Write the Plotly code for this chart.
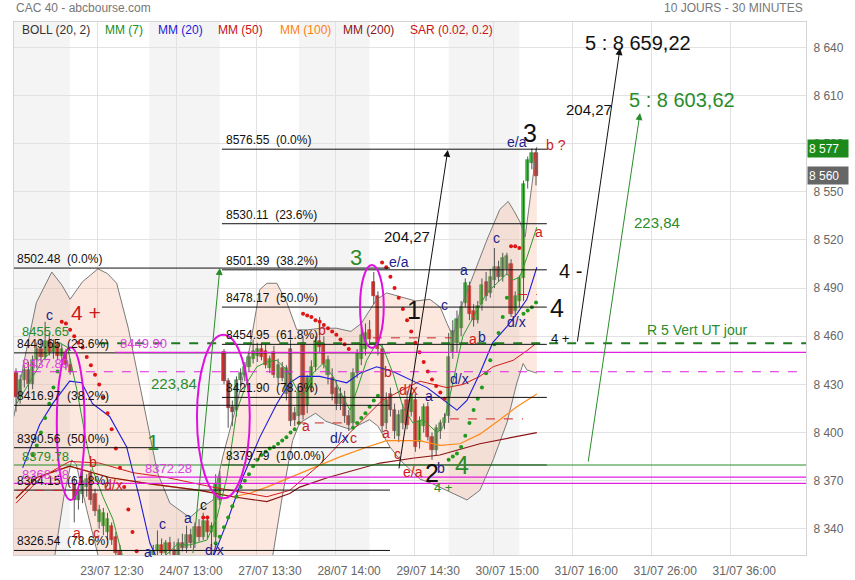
import plotly.graph_objects as go

# ---------------- data ----------------
day_labels = ["22/07", "23/07", "24/07", "27/07", "28/07", "29/07", "30/07", "31/07"]
day_first = [0, 14, 32, 50, 68, 86, 104, 122]
day_last = [13, 31, 49, 67, 85, 103, 121, 125]

opens = [8437, 8422, 8433, 8439, 8430, 8445, 8452, 8447, 8457, 8450, 8455, 8448, 8450, 8442,
         8368, 8358, 8362, 8366, 8375, 8362, 8344, 8342, 8338, 8342, 8335, 8326, 8318, 8308, 8314, 8306, 8312, 8318,
         8315, 8322, 8326, 8330, 8325, 8331, 8327, 8323, 8331, 8328, 8336, 8331, 8341, 8335, 8345, 8338, 8335, 8358,
         8450, 8432, 8416, 8414, 8433, 8436, 8441, 8446, 8448, 8452, 8451, 8440, 8450, 8434, 8440, 8424, 8452, 8412,
         8410, 8456, 8417, 8428, 8441, 8457, 8455, 8436, 8434, 8428, 8418, 8422, 8410, 8406, 8437, 8446, 8452, 8464,
         8494, 8485, 8452, 8406, 8424, 8414, 8398, 8406, 8420, 8413, 8420, 8394, 8404, 8416, 8397, 8389, 8401, 8406,
         8410, 8450, 8456, 8465, 8481, 8491, 8476, 8470, 8480, 8494, 8487, 8495, 8503, 8497, 8502, 8505, 8476, 8482,
         8496, 8557, 8568, 8574]
highs = [8440, 8436, 8442, 8444, 8448, 8456, 8458, 8469, 8462, 8458, 8457, 8455, 8452, 8446,
         8372, 8366, 8377, 8374, 8377, 8365, 8355, 8353, 8350, 8344, 8338, 8330, 8322, 8318, 8318, 8316, 8322, 8322,
         8326, 8330, 8339, 8334, 8333, 8335, 8332, 8334, 8337, 8342, 8340, 8344, 8346, 8350, 8348, 8344, 8374, 8376,
         8452, 8434, 8420, 8435, 8440, 8444, 8450, 8458, 8456, 8456, 8455, 8448, 8454, 8446, 8444, 8442, 8458, 8416,
         8428, 8460, 8436, 8445, 8460, 8472, 8460, 8448, 8440, 8432, 8428, 8426, 8414, 8440, 8452, 8466, 8468, 8470,
         8500, 8488, 8455, 8425, 8428, 8418, 8414, 8418, 8426, 8428, 8424, 8410, 8418, 8419, 8400, 8405, 8408, 8412,
         8462, 8470, 8476, 8482, 8496, 8494, 8480, 8482, 8496, 8500, 8502, 8515, 8507, 8512, 8512, 8508, 8488, 8498,
         8557, 8572, 8577, 8577]
lows = [8413, 8418, 8428, 8426, 8427, 8440, 8444, 8445, 8448, 8446, 8445, 8444, 8439, 8436,
        8344, 8352, 8356, 8360, 8355, 8348, 8340, 8336, 8333, 8330, 8320, 8314, 8306, 8303, 8302, 8302, 8308, 8312,
        8308, 8316, 8320, 8322, 8321, 8324, 8320, 8320, 8326, 8325, 8328, 8328, 8332, 8333, 8334, 8330, 8330, 8355,
        8430, 8403, 8404, 8410, 8428, 8432, 8438, 8443, 8444, 8445, 8440, 8437, 8434, 8430, 8432, 8420, 8404, 8404,
        8406, 8408, 8412, 8425, 8438, 8450, 8440, 8430, 8420, 8414, 8414, 8406, 8401, 8403, 8434, 8442, 8448, 8455,
        8480, 8448, 8400, 8402, 8410, 8396, 8394, 8402, 8402, 8410, 8388, 8390, 8400, 8395, 8383, 8386, 8396, 8402,
        8406, 8446, 8450, 8460, 8478, 8470, 8466, 8468, 8476, 8482, 8484, 8490, 8494, 8494, 8498, 8472, 8472, 8478,
        8482, 8552, 8564, 8554]
closes = [8422, 8433, 8439, 8430, 8445, 8452, 8447, 8457, 8450, 8455, 8448, 8452, 8442, 8438,
          8358, 8364, 8370, 8371, 8358, 8351, 8352, 8350, 8346, 8333, 8325, 8318, 8310, 8315, 8306, 8313, 8318, 8315,
          8322, 8326, 8330, 8325, 8331, 8327, 8323, 8331, 8328, 8336, 8331, 8341, 8335, 8345, 8338, 8342, 8368, 8372,
          8432, 8415, 8413, 8433, 8437, 8441, 8447, 8451, 8452, 8447, 8442, 8446, 8436, 8442, 8434, 8440, 8407, 8408,
          8425, 8411, 8434, 8441, 8457, 8453, 8443, 8445, 8424, 8418, 8424, 8410, 8405, 8437, 8449, 8461, 8462, 8458,
          8485, 8452, 8404, 8420, 8414, 8401, 8411, 8414, 8405, 8424, 8391, 8407, 8416, 8397, 8389, 8403, 8406, 8409,
          8447, 8463, 8471, 8478, 8493, 8474, 8470, 8479, 8492, 8485, 8497, 8503, 8497, 8509, 8510, 8474, 8485, 8496,
          8555, 8570, 8574, 8560]

# Bollinger (20, 2) band outlines, read at their turning points
bb_up_x = [-0.5, 2, 4.9, 8.6, 11, 13, 16, 19.7, 22, 24.2, 27, 31.4, 34, 37, 41.8, 44, 47.4, 49.7, 53.1, 56.2,
           58.6, 60.3, 62.7, 65.1, 67.5, 70, 73.5, 77, 80.5, 83, 86.7, 89.1, 92, 96, 99.5, 102, 103.6, 105, 107.4,
           113.2, 116.3, 118.3, 119.5, 121.2, 122.4, 123.5, 124.5, 125.2]
bb_up_y = [8410, 8445, 8481, 8500, 8492, 8483, 8494, 8502, 8499, 8493, 8465, 8408, 8375, 8356, 8347, 8352, 8358,
           8385, 8418, 8453, 8489, 8493, 8493, 8481, 8464, 8464, 8465, 8465, 8463, 8468, 8483, 8487, 8485, 8482,
           8483, 8478, 8468, 8460, 8481, 8520, 8539, 8544, 8539, 8531, 8522, 8545, 8566, 8578]
bb_lo_x = [-0.5, 8.5, 9.3, 11.5, 13.4, 14.5, 17, 19.7, 21, 40, 58, 61.7, 64, 66.5, 68.2, 72, 74.5, 80.3, 85, 87,
           89.9, 92.3, 94.7, 97.1, 100.2, 103.6, 106.7, 108.4, 111.5, 114.7, 118, 120.4, 121.9, 122.8, 125.2]
bb_lo_y = [8290, 8305, 8323, 8360, 8383, 8380, 8352, 8323, 8310, 8290, 8295, 8323, 8360, 8395, 8406, 8412, 8407,
           8402, 8408, 8404, 8391, 8383, 8377, 8371, 8368, 8364, 8360, 8358, 8364, 8383, 8406, 8431, 8443, 8439, 8437]

# moving averages, read at their turning points
mm7_x = [0.2, 6.4, 10.5, 12.4, 14.6, 17, 18.4, 20.9, 23.3, 25.7, 29, 33, 38.6, 41.8, 45.9, 48.3, 50.7, 53.1,
         55.5, 57.9, 60.3, 62.7, 65.1, 67.5, 68.9, 71.4, 73.8, 76.2, 78.6, 80.3, 81.9, 84.3, 86.7, 88.2, 90.6, 93,
         95.4, 97.8, 101.2, 102.6, 105, 107.4, 110.8, 113.2, 115.6, 118, 119.5, 121.1, 122.8, 125.2]
mm7_y = [8418, 8445, 8456, 8453, 8427, 8393, 8377, 8360, 8346, 8322, 8312, 8316, 8330, 8330, 8333, 8347, 8372,
         8414, 8431, 8441, 8444, 8445, 8439, 8427, 8422, 8437, 8443, 8435, 8422, 8414, 8426, 8445, 8456, 8453, 8437,
         8416, 8406, 8408, 8400, 8403, 8431, 8460, 8476, 8487, 8493, 8499, 8495, 8497, 8509, 8528]
mm20_x = [1.6, 5.7, 8.8, 12.9, 15.8, 18.4, 22.5, 26.6, 29.8, 32.2, 33.8, 38, 44, 47.3, 50.7, 54.5, 58.6, 62.7,
          65.8, 68.2, 73, 76.2, 79.5, 82.7, 86.7, 90.6, 94.7, 98.8, 101.9, 104, 106, 108.4, 111.5, 114.6, 118,
          120.4, 122.8, 125.2]
mm20_y = [8378, 8405, 8418, 8432, 8431, 8418, 8410, 8391, 8358, 8331, 8322, 8300, 8300, 8322, 8344, 8372, 8397,
          8418, 8431, 8435, 8435, 8433, 8431, 8437, 8441, 8438, 8433, 8428, 8422, 8418, 8414, 8420, 8437, 8456,
          8466, 8474, 8483, 8503]
mm50_x = [0, 6, 12.9, 20, 28.1, 36.2, 47.3, 60.3, 65.8, 73, 80.3, 88, 94, 97.1, 103.6, 107.5, 111.5, 114.7,
          119.5, 122.8, 125.2]
mm50_y = [8356, 8372, 8382, 8381, 8375, 8372, 8366, 8360, 8364, 8380, 8400, 8420, 8428, 8432, 8428, 8430, 8435,
          8441, 8445, 8451, 8456]
mm100_x = [0, 5, 12.9, 22.5, 32.2, 44.2, 52.1, 56, 60.3, 65.8, 72.5, 78, 84.4, 89.1, 97, 101.9, 106.7, 111.5,
           116.3, 120.4, 125.2]
mm100_y = [8359, 8372, 8379, 8372, 8368, 8364, 8360, 8362, 8366, 8372, 8379, 8385, 8391, 8395, 8395, 8392, 8393,
           8399, 8408, 8416, 8424]
mm200_x = [0, 5, 12.9, 22.5, 32.2, 44.2, 52.1, 60.3, 65.8, 68.2, 75, 82, 87.5, 95.3, 101.9, 111.5, 119.5, 125.2]
mm200_y = [8359, 8372, 8379, 8372, 8368, 8364, 8360, 8357, 8362, 8366, 8372, 8377, 8381, 8384, 8386, 8393, 8397,
           8400]

# parabolic SAR (0.02, 0.2)
sar_red_x = list(range(11, 30)) + [45, 46] + list(range(69, 81)) + list(range(88, 104)) + [119, 120, 121]
sar_red_y = [8469, 8468, 8464, 8460, 8456, 8453, 8447, 8442, 8436, 8430, 8422, 8412, 8402, 8390, 8378, 8366,
             8352, 8338, 8326,
             8347, 8347,
             8474, 8473, 8472, 8470, 8469, 8467, 8465, 8463, 8461, 8458, 8455, 8452,
             8506, 8503, 8497, 8490, 8484, 8477, 8470, 8463, 8456, 8450, 8444, 8438, 8433, 8429, 8425, 8421,
             8516, 8516, 8515]
sar_green_x = list(range(4, 11)) + list(range(48, 69)) + list(range(81, 88)) + list(range(104, 119)) + \
    [122, 123, 124, 125]
sar_green_y = [8386, 8392, 8400, 8409, 8418, 8428, 8438,
               8331, 8335, 8341, 8347, 8354, 8360, 8366, 8370, 8374, 8379, 8383, 8386, 8388, 8390, 8391, 8393,
               8395, 8397, 8400, 8402, 8406,
               8403, 8406, 8409, 8412, 8416, 8420, 8423,
               8383, 8385, 8387, 8391, 8398, 8406, 8414, 8421, 8428, 8437, 8445, 8455, 8462, 8472, 8484,
               8474, 8476, 8478, 8481]

# Fibonacci retracements
fib_left_levels = [8502.48, 8449.65, 8416.97, 8390.56, 8364.15, 8326.54]
fib_left_pct = ["0.0%", "23.6%", "38.2%", "50.0%", "61.8%", "78.6%"]
fib_right_levels = [8576.55, 8530.11, 8501.39, 8478.17, 8454.95, 8421.90, 8379.79]
fib_right_pct = ["0.0%", "23.6%", "38.2%", "50.0%", "61.8%", "78.6%", "100.0%"]

# horizontal levels drawn on the chart
level_values = [8455.65, 8449.90, 8437.89, 8379.78, 8372.28, 8368.28]
level_colors = ["#1f7a1f", "#e020e0", "#e020e0", "#2a8c2a", "#e020e0", "#e020e0"]

y_ticks = [8340, 8370, 8400, 8430, 8460, 8490, 8520, 8550, 8580, 8610, 8640]
x_tick_labels = ["23/07 12:30", "24/07 13:00", "27/07 13:30", "28/07 14:00", "29/07 14:30",
                 "30/07 15:00", "31/07 16:00", "31/07 26:00", "31/07 36:00"]
last_high = 8577
last_close = 8560

# ---------------- styles ----------------
FONT = "Arial, 'Liberation Sans', sans-serif"
NAVY = "#1c1c8c"
RED = "#cc1a1a"
GREEN = "#2a8c2a"
BLACK = "#111111"
MAG = "#e040e0"

fig = go.Figure()

# Bollinger fill
fig.add_trace(go.Scatter(x=bb_up_x + bb_lo_x[::-1], y=bb_up_y + bb_lo_y[::-1], fill="toself",
                         fillcolor="rgba(240,150,110,0.22)", line=dict(width=0), mode="lines",
                         hoverinfo="skip"))
fig.add_trace(go.Scatter(x=bb_up_x, y=bb_up_y, mode="lines", line=dict(color="#7a7a7a", width=1)))
fig.add_trace(go.Scatter(x=bb_lo_x, y=bb_lo_y, mode="lines", line=dict(color="#7a7a7a", width=1)))

# candles: wicks + bodies
idx = list(range(len(opens)))
wx, wy = [], []
for i in idx:
    wx += [i, i, None]
    wy += [lows[i], highs[i], None]
fig.add_trace(go.Scatter(x=wx, y=wy, mode="lines", line=dict(color="#555555", width=1), hoverinfo="skip"))
body_h = [max(abs(c - o), 0.6) for o, c in zip(opens, closes)]
body_b = [min(o, c) for o, c in zip(opens, closes)]
body_c = ["#43b843" if c >= o else "#d63030" for o, c in zip(opens, closes)]
body_e = ["#2d8a2d" if c >= o else "#a82020" for o, c in zip(opens, closes)]
fig.add_trace(go.Bar(x=idx, y=body_h, base=body_b, width=0.75,
                     marker=dict(color=body_c, line=dict(color=body_e, width=0.6))))

# moving averages
fig.add_trace(go.Scatter(x=mm100_x, y=mm100_y, mode="lines", line=dict(color="#ff8a1a", width=1.2)))
fig.add_trace(go.Scatter(x=mm200_x, y=mm200_y, mode="lines", line=dict(color="#8b1515", width=1.2)))
fig.add_trace(go.Scatter(x=mm50_x, y=mm50_y, mode="lines", line=dict(color="#d41a1a", width=1)))
fig.add_trace(go.Scatter(x=mm20_x, y=mm20_y, mode="lines", line=dict(color="#1c1cdc", width=1.1)))
fig.add_trace(go.Scatter(x=mm7_x, y=mm7_y, mode="lines", line=dict(color="#2f9a2f", width=1)))

# SAR
fig.add_trace(go.Scatter(x=sar_red_x, y=sar_red_y, mode="markers", marker=dict(color="#dd1515", size=4)))
fig.add_trace(go.Scatter(x=sar_green_x, y=sar_green_y, mode="markers", marker=dict(color="#1f9a1f", size=4)))

shapes = []
# alternate day shading
for k, (a, b) in enumerate(zip(day_first, day_last)):
    if k % 2 == 0:
        shapes.append(dict(type="rect", xref="x", yref="paper", x0=(a if a > 0 else -0.5), x1=b, y0=0, y1=1,
                           fillcolor="rgba(0,0,0,0.045)", line=dict(width=0), layer="below"))

# fib lines
for v in fib_left_levels:
    shapes.append(dict(type="line", xref="x", yref="y", x0=-0.5, x1=89.9, y0=v, y1=v,
                       line=dict(color=BLACK, width=1)))
for v in fib_right_levels:
    shapes.append(dict(type="line", xref="x", yref="y", x0=49.5, x1=127.6, y0=v, y1=v,
                       line=dict(color=BLACK, width=1)))

# level lines
level_start = [20.0, 23.8, -0.5, -0.5, 29.0, -0.5]
level_dash = ["dash", "solid", "dash", "solid", "solid", "solid"]
level_width = [2, 1.2, 1.2, 1, 1.2, 1.2]
for v, c, s, d, w in zip(level_values, level_colors, level_start, level_dash, level_width):
    shapes.append(dict(type="line", xref="x", yref="y", x0=s, x1=190, y0=v, y1=v,
                       line=dict(color=c, width=w, dash=d)))

# short red dashed marks
for (x0, x1, v) in [(67.5, 79.5, 8406), (85.8, 104.8, 8459), (104.3, 121.9, 8408.5), (120.7, 125.2, 8486),
                    (0.2, 18.5, 8364)]:
    shapes.append(dict(type="line", xref="x", yref="y", x0=x0, x1=x1, y0=v, y1=v,
                       line=dict(color="#cc2222", width=1, dash="dash")))

# magenta ellipses
for (x0, x1, y0, y1) in [(9.8, 16.5, 8358, 8453), (43.5, 56.2, 8359, 8461), (82.7, 88.4, 8452.7, 8504.4)]:
    shapes.append(dict(type="circle", xref="x", yref="y", x0=x0, x1=x1, y0=y0, y1=y1,
                       line=dict(color="#e010e0", width=2)))

ann = []


def txt(t, x, y, color, size=13, xanchor="center", yanchor="middle", xref="x", yref="y", **kw):
    d = dict(text=t, x=x, y=y, xref=xref, yref=yref, showarrow=False, xanchor=xanchor, yanchor=yanchor,
             font=dict(color=color, size=size, family=FONT))
    d.update(kw)
    ann.append(d)


# fib labels
for v, p in zip(fib_left_levels, fib_left_pct):
    txt(f"{v:.2f}  ({p})", -0.3, v, BLACK, 12, xanchor="left", yanchor="bottom", yshift=0)
for v, p in zip(fib_right_levels, fib_right_pct):
    txt(f"{v:.2f}  ({p})", 49.9, v, BLACK, 12, xanchor="left", yanchor="bottom", yshift=0)

# level labels
txt("8455.65", 0.9, 8455.65, GREEN, 13, xanchor="left", yanchor="bottom", yshift=2)
txt("8449.90", 24.6, 8449.90, MAG, 13, xanchor="left", yanchor="bottom", yshift=-1)
txt("8437.89", 0.9, 8437.89, MAG, 13, xanchor="left", yanchor="bottom", yshift=-1)
txt("8379.78", 0.9, 8379.78, GREEN, 13, xanchor="left", yanchor="bottom", yshift=-1)
txt("8372.28", 30.5, 8372.28, MAG, 13, xanchor="left", yanchor="bottom", yshift=-1)
txt("8368.28", 0.9, 8368.28, MAG, 13, xanchor="left", yanchor="bottom", yshift=-1)

# wave labels
notes = [
    ("c", 8.1, 8473.2, NAVY, 14), ("4 +", 16.8, 8474.5, RED, 21), ("223,84", 37.9, 8430.3, GREEN, 15),
    ("1", 32.9, 8393.5, GREEN, 22), ("b", 18.4, 8381.7, RED, 14), ("d/x", 23.5, 8367.3, RED, 14),
    ("a", 14.6, 8337.4, RED, 14), ("c", 19.4, 8337.4, RED, 14), ("a", 31.7, 8325.5, NAVY, 14),
    ("c", 35.3, 8343, NAVY, 14), ("a", 41.3, 8346.8, NAVY, 14), ("c", 45.1, 8354.9, BLACK, 14),
    ("d/x", 47.8, 8326.8, NAVY, 14), ("3", 81.7, 8508.8, GREEN, 22), ("e/a", 92.0, 8506.3, NAVY, 14),
    ("1", 95.7, 8476.4, BLACK, 25), ("b", 73.5, 8463.9, RED, 14), ("b", 89.4, 8437.7, RED, 14),
    ("d/x", 94.4, 8426.5, RED, 14), ("a", 99.3, 8422.8, NAVY, 14), ("a", 69.6, 8404.1, RED, 14),
    ("d/x", 77.8, 8396.6, NAVY, 14), ("c", 81.2, 8396.6, RED, 14), ("a", 88.9, 8399.7, RED, 14),
    ("c", 91.6, 8386.6, RED, 14), ("e/a", 95.4, 8375.4, RED, 14), ("2", 100.0, 8374.8, BLACK, 25),
    ("b", 102.1, 8377.9, NAVY, 14), ("4", 107.2, 8379.8, GREEN, 25), ("4 +", 102.6, 8365.5, GREEN, 13),
    ("d/x", 106.7, 8433.4, NAVY, 14), ("a", 109.8, 8458.3, RED, 14), ("b", 112.0, 8459.5, NAVY, 14),
    ("d/x", 120.4, 8468.9, NAVY, 14), ("c", 103.1, 8479.5, NAVY, 14), ("a", 107.7, 8501.3, NAVY, 14),
    ("c", 115.4, 8521.2, NAVY, 14), ("a", 125.7, 8525.0, RED, 14), ("e/a", 120.4, 8581.0, NAVY, 14),
    ("3", 123.5, 8586.7, BLACK, 25), ("b ?", 129.8, 8579.2, RED, 14), ("204,27", 94.0, 8521.9, BLACK, 15),
    ("4 -", 133.2, 8500.7, BLACK, 20), ("4", 130.0, 8477.6, BLACK, 25), ("4 +", 130.8, 8458.9, BLACK, 13),
    ("R 5 Vert UT jour", 163.8, 8463.9, GREEN, 14), ("204,27", 137.7, 8601.0, BLACK, 15),
    ("223,84", 154.1, 8530.6, GREEN, 15), ("5 : 8 659,22", 149.5, 8642.7, BLACK, 20),
    ("5 : 8 603,62", 160.1, 8607.2, GREEN, 20),
]
for t, x, y, c, s in notes:
    txt(t, x, y, c, s)

# arrows (head, tail)
for (hx, hy, tx, ty, c) in [(103.8, 8576.1, 92.0, 8376.7, BLACK), (49.0, 8502.5, 42.5, 8323.9, GREEN),
                            (145.2, 8639.6, 134.9, 8455.8, BLACK), (150.0, 8599.1, 137.5, 8381.0, GREEN)]:
    ann.append(dict(x=hx, y=hy, ax=tx, ay=ty, xref="x", yref="y", axref="x", ayref="y", text="",
                    showarrow=True, arrowhead=2, arrowsize=1.4, arrowwidth=1, arrowcolor=c))

# header and legend row
txt("CAC 40 - abcbourse.com", 0.0, 1.027, "#777777", 12, xanchor="left", xref="paper", yref="paper")
txt("10 JOURS - 30 MINUTES", 0.999, 1.027, "#777777", 12, xanchor="right", xref="paper", yref="paper")
legend_items = [("BOLL (20, 2)", "#333333", 0.0076), ("MM (7)", "#228b22", 0.1124), ("MM (20)", "#1c1cdc", 0.1793),
                ("MM (50)", "#cc1111", 0.2547), ("MM (100)", "#ff7f0e", 0.3330), ("MM (200)", "#8b1515", 0.4129),
                ("SAR (0.02, 0.2)", "#cc1111", 0.4975)]
for t, c, x in legend_items:
    txt(t, x, 0.985, c, 12, xanchor="left", xref="paper", yref="paper")

# last price tags
txt("8 577", 1.0, last_high, "white", 12, xanchor="left", xref="paper", yref="y", bgcolor="#1b8a1b",
    width=38, height=15, align="left", xshift=1)
txt("8 560", 1.0, last_close, "white", 12, xanchor="left", xref="paper", yref="y", bgcolor="#666666",
    width=38, height=15, align="left", xshift=1)

fig.update_layout(
    width=855, height=580, margin=dict(l=14, r=49, t=22, b=25, autoexpand=False),
    plot_bgcolor="white", paper_bgcolor="white", showlegend=False,
    font=dict(family=FONT), shapes=shapes, annotations=ann, bargap=0,
    xaxis=dict(range=[-0.48, 189.9], tickmode="array", tickvals=[19.7 + 19 * k for k in range(len(x_tick_labels))],
               ticktext=x_tick_labels, showgrid=True, gridcolor="#e2e2e2", zeroline=False, showline=True,
               linecolor="#d4d4d4", mirror=True, ticks="outside", ticklen=5, tickcolor="rgba(0,0,0,0)",
               tickfont=dict(size=12, color="#666666"), ticklabelshift=14, fixedrange=True, automargin=False),
    yaxis=dict(side="right", range=[8323.7, 8655.8], tickmode="array", tickvals=y_ticks,
               ticktext=[f"{v // 1000} {v % 1000:03d}" for v in y_ticks], showgrid=True, gridcolor="#e2e2e2",
               zeroline=False, showline=True, linecolor="#d4d4d4", mirror=True, ticks="outside", ticklen=4,
               tickcolor="rgba(0,0,0,0)", tickfont=dict(size=12, color="#666666"), fixedrange=True,
               automargin=False),
)

fig.write_html("out.html", config={"displayModeBar": False},
               post_script="document.body.style.margin='0px';document.body.style.overflow='hidden';")
